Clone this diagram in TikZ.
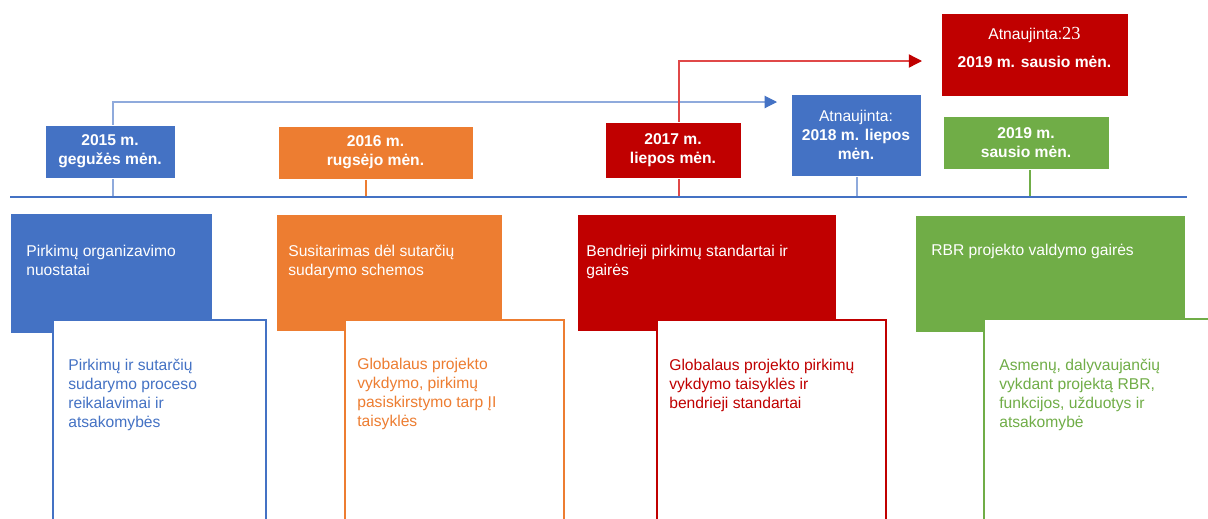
\documentclass[tikz,border=0pt]{standalone}
\usepackage{fontspec}
\setmainfont{Liberation Sans}
\newfontfamily\serifdigits{Liberation Serif}
\usepackage{tikz}
\usetikzlibrary{arrows.meta, calc, backgrounds}

\definecolor{rbrblue}{HTML}{4472C4}
\definecolor{rbrlightblue}{HTML}{8FAADC}
\definecolor{rbrorange}{HTML}{ED7D31}
\definecolor{rbrred}{HTML}{C00000}
\definecolor{rbrlightred}{HTML}{E04848}
\definecolor{rbrgreen}{HTML}{70AD47}

\begin{document}
\begin{tikzpicture}[
        x=0.02cm, y=-0.02cm,
        datebox/.style={
            rectangle,
            draw=white,
            line width=0.4pt,
            inner sep=0pt,
            align=center,
            text=white,
            font=\bfseries\fontsize{8.9}{10.8}\selectfont
        },
        docbox/.style={
            rectangle,
            anchor=north west,
            draw=white,
            line width=0.4pt,
            inner sep=0pt,
            minimum height=2.34cm
        },
        notebox/.style={
            rectangle,
            anchor=north west,
            fill=white,
            line width=1.1pt,
            inner sep=0pt,
            minimum height=4.8cm
        },
        doctext/.style={
            anchor=north west,
            inner sep=0pt,
            align=left,
            font=\fontsize{8.9}{10.8}\selectfont
        },
        link/.style={line width=0.6pt},
        bluetip/.style={-{Triangle[length=7pt, width=7pt, color=rbrblue]}},
        redtip/.style={-{Triangle[length=7.5pt, width=7.5pt, color=rbrred]}}
    ]

    \useasboundingbox (0,0) rectangle (1208,518);
    \clip (0,0) rectangle (1208,518);

    % Timeline
    \coordinate (tlstart) at (10,197);
    \coordinate (tlend) at (1187,197);
    \draw[line width=1.7pt, rbrblue] (tlstart) -- (tlend);

    % Date boxes
    \node[datebox, fill=rbrblue, minimum width=2.6cm, minimum height=1.06cm]
        (may15) at (110,151.5) {2015 m.\\gegužės mėn.};
    \node[datebox, fill=rbrorange, minimum width=3.9cm, minimum height=1.06cm]
        (sep16) at (375.5,152.5) {2016 m.\\rugsėjo mėn.};
    \node[datebox, fill=rbrred, minimum width=2.72cm, minimum height=1.12cm]
        (jul17) at (673,150) {2017 m.\\liepos mėn.};
    \node[datebox, fill=rbrblue, minimum width=2.6cm, minimum height=1.64cm]
        (jul18) at (856,135) {{\mdseries Atnaujinta:}\\2018 m. liepos\\mėn.};
    \node[datebox, fill=rbrred, minimum width=3.74cm, minimum height=1.66cm]
        (jan19upd) at (1034.5,54.5) {};
    \node[datebox, fill=none, draw=none] at ($(jan19upd.center)+(0,-7)$)
        {{\mdseries Atnaujinta:{\serifdigits\fontsize{10.5}{12}\selectfont 23}}\\[5pt]2019 m. sausio mėn.};
    \node[datebox, fill=rbrgreen, minimum width=3.32cm, minimum height=1.06cm]
        (jan19) at (1026,142.5) {2019 m.\\sausio mėn.};

    % Connectors behind the boxes
    \coordinate (arrow18) at (777,102);
    \coordinate (arrow19) at (922,61);
    \coordinate (red17) at ($(jul17.south |- tlstart)+(6,0)$);
    \begin{pgfonlayer}{background}
        \draw[link, rbrlightblue] ([xshift=0.06cm]may15.south) -- ([xshift=0.06cm]may15.south |- tlstart);
        \draw[link, rbrlightblue, bluetip] ([xshift=0.06cm]may15.north) |- (arrow18);
        \draw[link, rbrorange] ([xshift=-0.19cm]sep16.south) -- ([xshift=-0.19cm]sep16.south |- tlstart);
        \draw[link, rbrlightred, line width=0.8pt, redtip] (red17) |- (arrow19);
        \draw[link, rbrlightblue] ([xshift=0.02cm]jul18.south) -- ([xshift=0.02cm]jul18.south |- tlstart);
        \draw[link, rbrgreen] ([xshift=0.08cm]jan19.south) -- ([xshift=0.08cm]jan19.south |- tlstart);
    \end{pgfonlayer}

    % Document boxes
    \node[docbox, fill=rbrblue, minimum width=4.04cm, minimum height=2.4cm] (rules) at (10,213) {};
    \node[doctext, text=white] at ($(rules.north west)+(16,32)$)
        {Pirkimų organizavimo\\nuostatai};
    \node[docbox, fill=rbrorange, minimum width=4.52cm] (scheme) at (276,214) {};
    \node[doctext, text=white] at ($(scheme.north west)+(12,31)$)
        {Susitarimas dėl sutarčių\\sudarymo schemos};
    \node[docbox, fill=rbrred, minimum width=5.18cm] (standards) at (577,214) {};
    \node[doctext, text=white] at ($(standards.north west)+(9,31)$)
        {Bendrieji pirkimų standartai ir\\gairės};
    \node[docbox, fill=rbrgreen, minimum width=5.4cm] (guide) at (915,215) {};
    \node[doctext, text=white] at ($(guide.north west)+(16,29)$)
        {RBR projekto valdymo gairės};

    % Detail boxes
    \node[notebox, draw=rbrblue, minimum width=4.26cm] (rulesnote) at (52,319) {};
    \node[doctext, text=rbrblue] at ($(rulesnote.north west)+(16,40)$)
        {Pirkimų ir sutarčių\\sudarymo proceso\\reikalavimai ir\\atsakomybės};
    \node[notebox, draw=rbrorange, minimum width=4.38cm] (schemenote) at (344,319) {};
    \node[doctext, text=rbrorange] at ($(schemenote.north west)+(13,39)$)
        {Globalaus projekto\\vykdymo, pirkimų\\pasiskirstymo tarp ĮI\\taisyklės};
    \node[notebox, draw=rbrred, minimum width=4.58cm] (standardsnote) at (656,319) {};
    \node[doctext, text=rbrred] at ($(standardsnote.north west)+(13,40)$)
        {Globalaus projekto pirkimų\\vykdymo taisyklės ir\\bendrieji standartai};
    \node[notebox, draw=rbrgreen, minimum width=6cm] (guidenote) at (983,318) {};
    \node[doctext, text=rbrgreen] at ($(guidenote.north west)+(16,41)$)
        {Asmenų, dalyvaujančių\\vykdant projektą RBR,\\funkcijos, užduotys ir\\atsakomybė};

\end{tikzpicture}
\end{document}
